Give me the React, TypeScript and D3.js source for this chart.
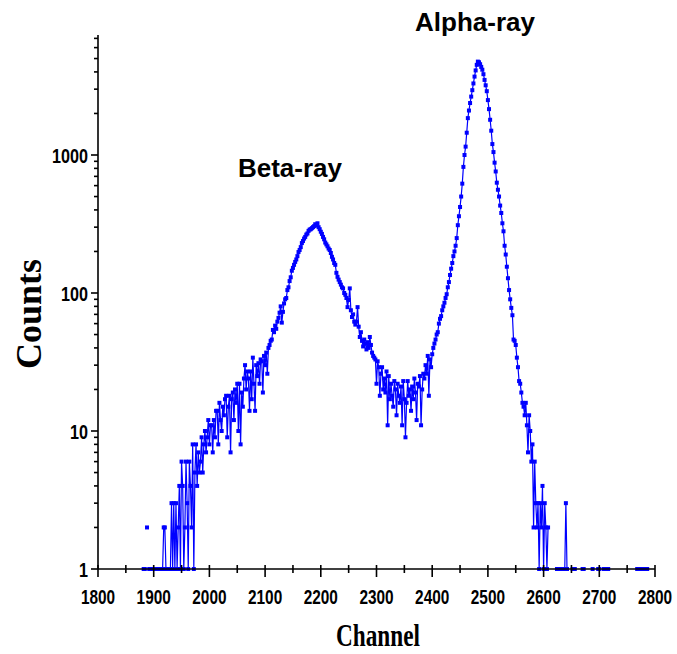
import { useEffect, useRef } from "react";
import * as d3 from "d3";

// counts per channel, sampled every 2 channels
const STEP = 2;

const tailLowStart = 1882;
const tailLow = [
  1, 1, 0, 2, 0, 1, 1, 1, 1, 1,
  1, 1, 1, 1, 1, 1, 1, 1, 2, 2,
  1, 1, 1, 1, 1, 3, 1, 3, 1, 3,
  1, 2, 4, 1, 6, 4, 1, 2, 6, 3,
  1, 6, 4, 2, 8, 1, 5, 8, 4, 7,
  5, 6, 9, 5, 8, 10, 7, 9, 12,
];

const betaRiseStart = 2000;
const betaRise = [
  8, 11, 11, 7, 12, 9, 14, 14, 8, 16,
  12, 10, 15, 13, 17, 18, 9, 15, 18, 7,
  17, 19, 12, 20, 16, 22, 10, 22, 8, 19,
  15, 24, 30, 20, 27, 24, 14, 27, 17, 34,
  22, 14, 30, 25, 31, 22, 33, 32, 19, 35,
  30, 37, 26, 40, 42, 45, 46, 54, 52, 58,
  55, 62, 66, 72, 80, 61, 73, 84, 90, 92,
  105, 110, 122, 130, 145, 152, 160, 168, 175, 185,
  198, 205, 215, 230, 238, 248, 255, 265, 270, 282,
  288, 290, 295, 300, 305, 315,
];

const betaFallStart = 2192;
const betaFall = [
  308, 320, 300, 290, 278, 268, 255, 245, 232, 225,
  218, 210, 205, 195, 183, 175, 165, 160, 140, 131,
  125, 120, 115, 110, 108, 100, 97, 92, 79, 89,
  108, 75, 67, 70, 62, 59, 62, 79, 57, 48,
  52, 45, 41, 46, 43, 39, 44, 40, 48, 42,
  37, 35, 34, 33,
];

const valleyStart = 2300;
const valley = [
  22, 32, 29, 18, 26, 29, 20, 24, 19, 27,
  11, 25, 17, 22, 18, 15, 23, 20, 13, 22,
  18, 16, 21, 11, 23, 17, 9, 16, 23, 18,
  20, 14, 21, 17, 24, 19, 12, 22, 21, 25,
  11, 20, 26, 24, 30, 26, 35, 18, 33, 29,
];

const alphaPeakStart = 2400;
const alphaPeak = [
  36, 40, 43, 46, 50, 52, 60, 65, 68, 75,
  80, 85, 92, 98, 110, 120, 135, 150, 165, 185,
  200, 220, 250, 310, 360, 420, 500, 620, 820, 1000,
  1150, 1450, 1850, 2100, 2380, 2650, 2950, 3300, 3700, 4100,
  4500, 4750, 4700, 4550, 4350, 4150, 3850, 3500, 3200, 2900,
  2500, 2150, 1800, 1500, 1200, 1050, 880, 760, 630, 560,
  500, 430, 380, 320, 280, 220, 190, 155, 128, 105,
  90, 78, 69, 46, 45, 42, 34, 29, 23, 22,
  19, 16, 15, 13, 16, 11, 7, 13, 10, 6,
  8, 2, 6, 3, 2, 3,
];

const tailHighStart = 2592;
const tailHigh = [
  1, 3, 2, 4, 1, 3, 2, 1, 2, 0,
  0, 0, 0, 0, 0, 0, 1, 1, 1, 1,
  1, 1, 1, 1, 3, 1, 0, 0, 0, 0,
  1, 1, 1, 0, 0, 0, 0, 0, 0, 1,
  1, 0, 0, 0, 0, 0, 0, 0, 1, 0,
  0, 0, 0, 1, 1, 0, 0, 0, 1, 1,
  1, 1, 1, 0, 0, 0, 0, 0, 0, 0,
  0, 0, 0, 0, 0, 0, 0, 0, 0, 0,
  0, 0, 0, 0, 0, 0, 0, 0, 1, 1,
  1, 0, 0, 1, 1, 1, 1, 1,
];

const xTicks = [1800, 1900, 2000, 2100, 2200, 2300, 2400, 2500, 2600, 2700, 2800];
const yTicks = [1, 10, 100, 1000];

const segments: [number, number[]][] = [
  [tailLowStart, tailLow],
  [betaRiseStart, betaRise],
  [betaFallStart, betaFall],
  [valleyStart, valley],
  [alphaPeakStart, alphaPeak],
  [tailHighStart, tailHigh],
];

export default function App() {
  const ref = useRef<SVGSVGElement>(null);

  useEffect(() => {
    const svg = d3.select(ref.current);
    svg.selectAll("*").remove();

    const data = segments.flatMap(([start, vals]) =>
      vals.map((c, i) => ({ ch: start + i * STEP, c }))
    );

    const x = d3.scaleLinear().domain([1800, 2800]).range([98, 655]);
    const y = d3
      .scaleLog()
      .domain([1, Math.pow(10, 534 / 138)])
      .range([569, 35]);

    const blue = "#0000ff";
    const tickFont = "'Liberation Sans', Arial, sans-serif";

    // data line, broken at empty channels
    const line = d3
      .line<{ ch: number; c: number }>()
      .defined((d) => d.c > 0)
      .x((d) => x(d.ch))
      .y((d) => y(d.c));

    svg
      .append("path")
      .datum(data)
      .attr("d", line)
      .attr("fill", "none")
      .attr("stroke", blue)
      .attr("stroke-width", 1.2);

    svg
      .append("g")
      .selectAll("rect")
      .data(data.filter((d) => d.c > 0))
      .join("rect")
      .attr("x", (d) => x(d.ch) - 2)
      .attr("y", (d) => y(d.c) - 2)
      .attr("width", 4)
      .attr("height", 4)
      .attr("fill", blue);

    // axes
    const axes = svg.append("g").attr("stroke", "#000").attr("stroke-width", 1.6);
    axes.append("line").attr("x1", 98).attr("x2", 98).attr("y1", 35).attr("y2", 569);
    axes.append("line").attr("x1", 98).attr("x2", 655).attr("y1", 569).attr("y2", 569);

    const yMinor: number[] = [];
    yTicks.forEach((d) => {
      for (let m = 2; m <= 9; m++) if (m * d <= y.domain()[1]) yMinor.push(m * d);
    });

    axes
      .selectAll(".ymaj")
      .data(yTicks)
      .join("line")
      .attr("x1", 91)
      .attr("x2", 98)
      .attr("y1", (d) => y(d))
      .attr("y2", (d) => y(d));
    axes
      .selectAll(".ymin")
      .data(yMinor)
      .join("line")
      .attr("x1", 94)
      .attr("x2", 98)
      .attr("y1", (d) => y(d))
      .attr("y2", (d) => y(d));

    const xMinor = d3.range(1850, 2800, 100);
    axes
      .selectAll(".xmaj")
      .data(xTicks)
      .join("line")
      .attr("x1", (d) => x(d))
      .attr("x2", (d) => x(d))
      .attr("y1", 565)
      .attr("y2", 577);
    axes
      .selectAll(".xmin")
      .data(xMinor)
      .join("line")
      .attr("x1", (d) => x(d))
      .attr("x2", (d) => x(d))
      .attr("y1", 565)
      .attr("y2", 573);

    // condensed bold tick labels
    svg
      .append("g")
      .selectAll("text")
      .data(xTicks)
      .join("text")
      .attr("transform", (d) => `translate(${x(d)},604) scale(0.77,1)`)
      .attr("text-anchor", "middle")
      .attr("font-family", tickFont)
      .attr("font-weight", "bold")
      .attr("font-size", 20)
      .text((d) => d);

    svg
      .append("g")
      .selectAll("text")
      .data(yTicks)
      .join("text")
      .attr("transform", (d) => `translate(88,${y(d) + 7.5}) scale(0.77,1)`)
      .attr("text-anchor", "end")
      .attr("font-family", tickFont)
      .attr("font-weight", "bold")
      .attr("font-size", 21)
      .text((d) => d);

    // titles
    svg
      .append("text")
      .attr("x", 378)
      .attr("y", 646)
      .attr("text-anchor", "middle")
      .attr("font-family", "'Liberation Serif', 'Times New Roman', serif")
      .attr("font-weight", "bold")
      .attr("font-size", 32)
      .attr("textLength", 84)
      .attr("lengthAdjust", "spacingAndGlyphs")
      .text("Channel");

    svg
      .append("text")
      .attr("transform", "translate(41,314) rotate(-90)")
      .attr("text-anchor", "middle")
      .attr("font-family", "'Liberation Serif', 'Times New Roman', serif")
      .attr("font-weight", "bold")
      .attr("font-size", 36)
      .text("Counts");

    svg
      .append("text")
      .attr("x", 475)
      .attr("y", 31)
      .attr("text-anchor", "middle")
      .attr("font-family", tickFont)
      .attr("font-weight", "bold")
      .attr("font-size", 26)
      .text("Alpha-ray");

    svg
      .append("text")
      .attr("x", 290)
      .attr("y", 177)
      .attr("text-anchor", "middle")
      .attr("font-family", tickFont)
      .attr("font-weight", "bold")
      .attr("font-size", 26)
      .text("Beta-ray");
  }, []);

  return (
    <svg
      ref={ref}
      width={677}
      height={654}
      style={{ position: "absolute", left: 0, top: 0, background: "#fff" }}
    />
  );
}
